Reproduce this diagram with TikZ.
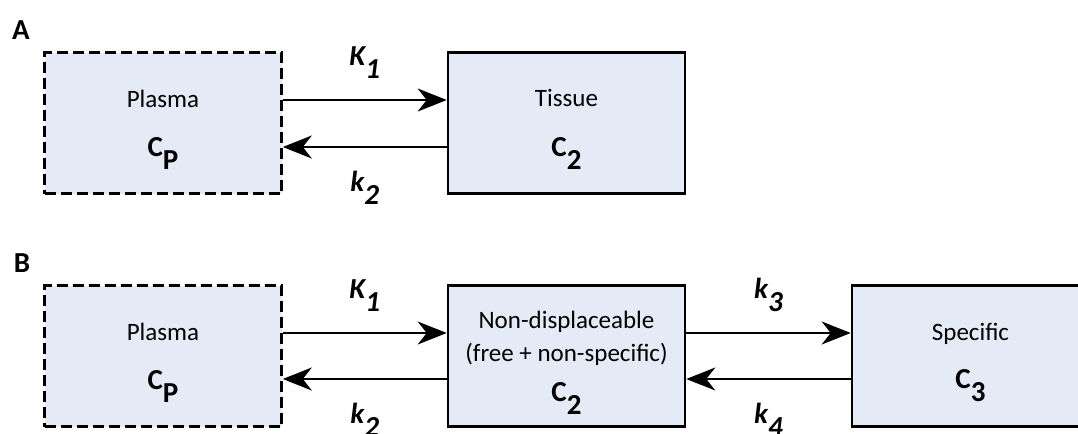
\documentclass[tikz,border=0pt]{standalone}
\usepackage{fontspec}
\setmainfont{Carlito}
\usetikzlibrary{arrows.meta}
\definecolor{boxfill}{RGB}{229,235,246}
\tikzset{
    comp/.style={rectangle, draw, fill=boxfill, line width=1.3pt, minimum width=118.5pt, minimum height=70.5pt, align=center, inner sep=0pt, font=\fontsize{12.5}{15}\selectfont},
    plasma/.style={comp, dash pattern=on 5.5pt off 2.5pt},
    flow/.style={draw, line width=1pt, -{Stealth[length=14.5pt, width=11.5pt, inset=4.5pt]}},
    rate/.style={font=\fontsize{14.5}{16}\selectfont\bfseries\itshape, inner sep=0pt},
    panel/.style={font=\fontsize{14.5}{16}\selectfont\bfseries}
}
\newcommand{\conc}[1]{{\fontsize{14.5}{16}\selectfont\bfseries C\raisebox{-0.45em}[0pt][0pt]{#1}}}
\newcommand{\rateof}[2]{#1\raisebox{-0.45em}[0pt][0pt]{#2}}

\begin{document}
\begin{tikzpicture}[x=0.5pt, y=-0.5pt]
    \useasboundingbox (0,0) rectangle (1078,434);

    % Panel A
    \node[panel] (labA) at (21,30) {A};
    \node[plasma] (plasA) at (163,123) {Plasma\\[9.5pt]\conc{P}};
    \node[comp] (tissA) at (566.5,123) {Tissue\\[10pt]\conc{2}};

    \draw[flow] ([yshift=11.5pt]plasA.east) -- node[rate, above=17pt] {\rateof{K}{1}} ([yshift=11.5pt]tissA.west);
    \draw[flow] ([yshift=-12pt]tissA.west) -- node[rate, below=11.5pt] {\rateof{k}{2}} ([yshift=-12pt]plasA.east);

    % Panel B
    \node[panel] (labB) at (22,263) {B};
    \node[plasma] (plasB) at (163,356) {Plasma\\[9.5pt]\conc{P}};
    \node[comp] (nondB) at (566.5,356) {Non-displaceable\\[1.5pt](free + non-specific)\\[5pt]\conc{2}};
    \node[comp] (specB) at (970.5,356) {Specific\\[9pt]\conc{3}};

    \draw[flow] ([yshift=11.5pt]plasB.east) -- node[rate, above=17pt] {\rateof{K}{1}} ([yshift=11.5pt]nondB.west);
    \draw[flow] ([yshift=-11.5pt]nondB.west) -- node[rate, below=11.5pt] {\rateof{k}{2}} ([yshift=-11.5pt]plasB.east);
    \draw[flow] ([yshift=11.5pt]nondB.east) -- node[rate, above=17pt] {\rateof{k}{3}} ([yshift=11.5pt]specB.west);
    \draw[flow] ([yshift=-11.5pt]specB.west) -- node[rate, below=11.5pt] {\rateof{k}{4}} ([yshift=-11.5pt]nondB.east);
\end{tikzpicture}
\end{document}
